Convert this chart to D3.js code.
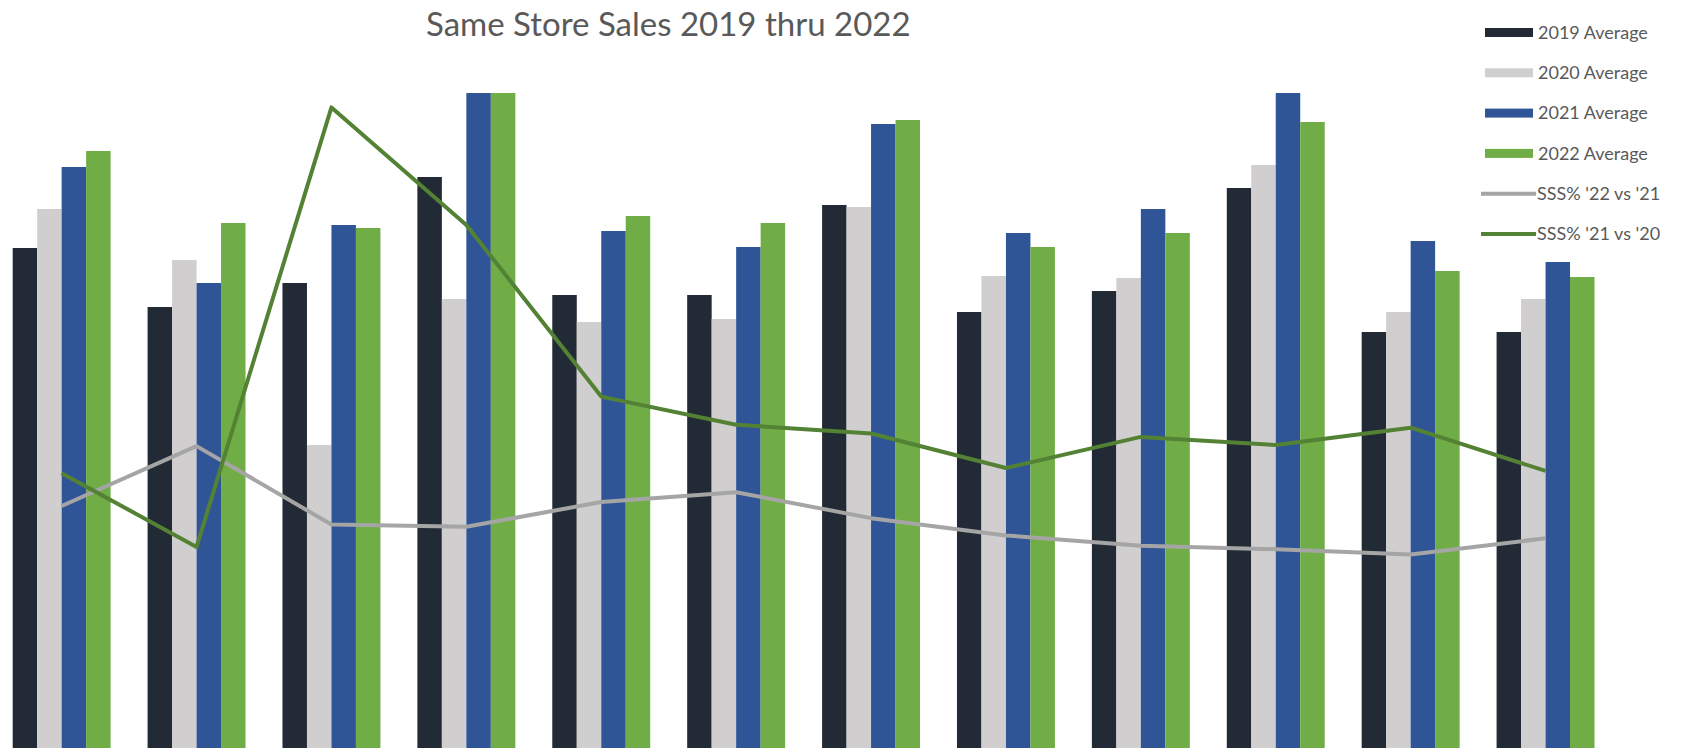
<!DOCTYPE html>
<html>
<head>
<meta charset="utf-8">
<script src="https://cdn.jsdelivr.net/npm/d3@7"></script>
<style>
  body { margin: 0; background: #fff; }
  svg text { font-family: Lato, "Open Sans", sans-serif; fill: #595959; }
</style>
</head>
<body>
<svg id="chart"></svg>
<script>
// monthly averages, hidden axis ($K)
const months = ['Jan', 'Feb', 'Mar', 'Apr', 'May', 'Jun', 'Jul', 'Aug', 'Sep', 'Oct', 'Nov', 'Dec'];
const barNames = ['2019 Average', '2020 Average', '2021 Average', '2022 Average'];
const avg2019 = [50.0, 44.1, 46.5, 57.1, 45.3, 45.3, 54.3, 43.6, 45.7, 56.0, 41.6, 41.6];
const avg2020 = [53.9, 48.8, 30.3, 44.9, 42.6, 42.9, 54.1, 47.2, 47.0, 58.3, 43.6, 44.9];
const avg2021 = [58.1, 46.5, 52.3, 65.5, 51.7, 50.1, 62.4, 51.5, 53.9, 65.5, 50.7, 48.6];
const avg2022 = [59.7, 52.5, 52.0, 65.5, 53.2, 52.5, 62.8, 50.1, 51.5, 62.6, 47.7, 47.1];

// same store sales %, secondary axis
const lineNames = ["SSS% '22 vs '21", "SSS% '21 vs '20"];
const sss22v21 = [2.5, 12.9, -0.7, -1.1, 3.2, 4.9, 0.4, -2.6, -4.4, -5.0, -5.9, -3.1];
const sss21v20 = [8.2, -4.6, 71.7, 51.3, 21.5, 16.6, 15.1, 9.1, 14.5, 13.1, 16.1, 8.6];

const barColors = ['#222a35', '#d0cece', '#2f5597', '#70ad47'];
const lineColors = ['#a5a5a5', '#548235'];

const width = 1682, height = 751;
const svg = d3.select('#chart').attr('width', width).attr('height', height);

const x0 = d3.scaleBand().domain(months).range([-5.8, 1613])
  .paddingInner(0.274).paddingOuter(0.137);
const x1 = d3.scaleBand().domain(barNames).range([0, x0.bandwidth()]);
const y = d3.scaleLinear().domain([0, 65.5]).range([748, 93]);
const yPct = d3.scaleLinear().domain([-39.5, 74.2]).range([748, 93]);

const barSeries = [avg2019, avg2020, avg2021, avg2022];

// bars
const groups = svg.append('g').selectAll('g').data(months).enter().append('g')
  .attr('transform', d => `translate(${x0(d)},0)`);

groups.selectAll('rect')
  .data((m, i) => barSeries.map((s, j) => ({name: barNames[j], value: s[i], color: barColors[j]})))
  .enter().append('rect')
  .attr('x', d => x1(d.name))
  .attr('y', d => y(d.value))
  .attr('width', x1.bandwidth())
  .attr('height', d => y(0) - y(d.value))
  .attr('fill', d => d.color);

// lines
const xMid = i => x0(months[i]) + x0.bandwidth() / 2;
const line = d3.line().x((d, i) => xMid(i)).y(d => yPct(d));

[sss22v21, sss21v20].forEach((s, k) => {
  svg.append('path').datum(s)
    .attr('d', line)
    .attr('fill', 'none')
    .attr('stroke', lineColors[k])
    .attr('stroke-width', 4)
    .attr('stroke-linejoin', 'round');
});

// title
svg.append('text')
  .attr('x', 426).attr('y', 36)
  .style('font-size', '33px')
  .text('Same Store Sales 2019 thru 2022');

// legend
const legend = svg.append('g').attr('transform', 'translate(1485,0)');
const rowY = i => 32.5 + i * 40.3;

barNames.forEach((name, i) => {
  legend.append('rect')
    .attr('x', 0).attr('y', rowY(i) - 4.5)
    .attr('width', 48).attr('height', 9)
    .attr('fill', barColors[i]);
  legend.append('text')
    .attr('x', 53).attr('y', rowY(i)).attr('dy', '0.35em')
    .style('font-size', '18px')
    .text(name);
});

lineNames.forEach((name, k) => {
  const i = barNames.length + k;
  legend.append('line')
    .attr('x1', -4).attr('x2', 51)
    .attr('y1', rowY(i)).attr('y2', rowY(i))
    .attr('stroke', lineColors[k]).attr('stroke-width', 4);
  legend.append('text')
    .attr('x', 52).attr('y', rowY(i)).attr('dy', '0.35em')
    .style('font-size', '18px')
    .text(name);
});
</script>
</body>
</html>
